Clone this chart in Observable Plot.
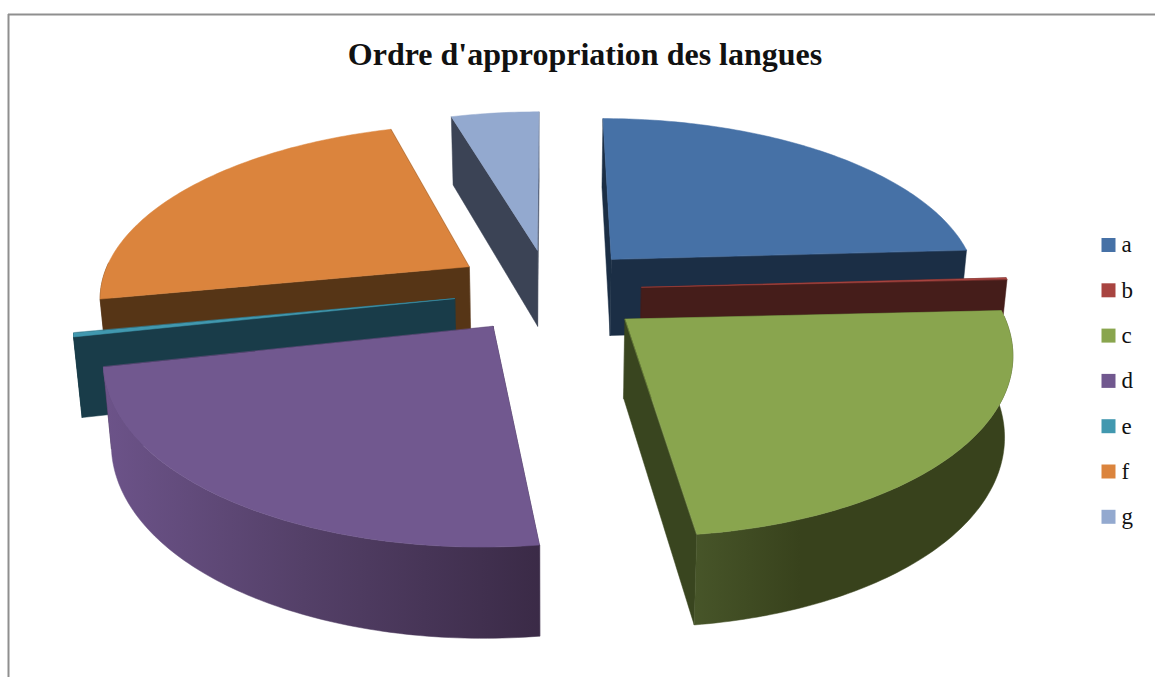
<!DOCTYPE html>
<html>
<head>
<meta charset="utf-8">
<script src="https://cdn.jsdelivr.net/npm/d3@7"></script>
<script src="https://cdn.jsdelivr.net/npm/@observablehq/plot@0.6"></script>
<style>
html,body{margin:0;padding:0;background:#fff;overflow:hidden}
svg{display:block}
</style>
</head>
<body>
<div id="chart"></div>
<script>
const chartTitle = "Ordre d'appropriation des langues";
const categories = ["a", "b", "c", "d", "e", "f", "g"];
const values = [24.1, 0.15, 23.75, 23.6, 0.35, 23.5, 4.55];
const topColors = ["#4671a6", "#a84440", "#89a54e", "#71588f", "#4198af", "#db843d", "#93a9cf"];
const sideColors = ["#1b2e45", "#451d1a", "#39451f", "#3a2b48", "#193c49", "#563516", "#3b4355"];
const rimFills = ["#1b2e45", "#451d1a", "url(#rim-c)", "url(#rim-d)", "#193c49", "#563516", "#3b4355"];
const explode = [0.25, 0.25, 0.26, 0.255, 0.26, 0.26, 0.24];
const drawOrder = ["g", "a", "f", "b", "e", "c", "d"];

// view of the tilted disc
const view = {x0: 549, y0: 289, A: 370, B: 172, k: 0.16, T: 78, kT: 0.12, pinch: 0.018};

function project(u, v, bottom) {
  const w = 1 - view.k * v;
  const x = view.x0 + view.A * u / w;
  const y = view.y0 + view.B * v / w;
  if (!bottom) return [x, y];
  return [view.x0 + (x - view.x0) * (1 - view.pinch), y + view.T / (1 - view.kT * v)];
}
const total = d3.sum(values);
const toRad = (t) => t / total * 2 * Math.PI;
const shapes = [];
let acc = 0;
categories.forEach((cat, i) => {
  const a0 = toRad(acc), a1 = toRad(acc + values[i]);
  acc += values[i];
  const mid = (a0 + a1) / 2;
  const ox = explode[i] * Math.sin(mid), oy = -explode[i] * Math.cos(mid);
  const rim = (a) => [ox + Math.sin(a), oy - Math.cos(a)];
  const apex = [ox, oy];
  const n = Math.max(2, Math.ceil((a1 - a0) * 60));
  const steps = d3.range(n + 1).map((s) => a0 + (a1 - a0) * s / n);
  const faces = [];
  const pushFace = (pts, fill) => faces.push({pts, fill, depth: d3.mean(pts, (p) => p[1])});
  for (const a of [a0, a1]) {
    const r = rim(a);
    pushFace([project(...apex), project(...r), project(...r, true), project(...apex, true)], sideColors[i]);
  }
  const front = steps.filter((a) => Math.cos(a) < 0.03);
  if (front.length > 1) {
    pushFace([...front.map((a) => project(...rim(a))), ...front.slice().reverse().map((a) => project(...rim(a), true))], rimFills[i]);
  }
  faces.sort((f, g) => f.depth - g.depth);
  faces.push({pts: [apex, ...steps.map(rim)].map((p) => project(...p)), fill: topColors[i]});
  const order = drawOrder.indexOf(cat) * 10;
  faces.forEach((f, j) => shapes.push({...f, order: order + j}));
});
shapes.sort((f, g) => f.order - g.order);

const legend = categories.map((c, i) => ({c, color: topColors[i], y: 244.5 + i * 45.3}));

function gradient(id, x1, x2, stops) {
  const g = d3.create("svg:linearGradient").attr("id", id).attr("gradientUnits", "userSpaceOnUse")
    .attr("x1", x1).attr("x2", x2).attr("y1", 0).attr("y2", 0);
  stops.forEach(([o, c]) => g.append("stop").attr("offset", o).attr("stop-color", c));
  return g.node();
}
const defs = () => {
  const d = d3.create("svg:defs");
  d.node().append(gradient("rim-d", 105, 545, [[0, "#6c5389"], [0.45, "#544068"], [1, "#3a2a46"]]));
  d.node().append(gradient("rim-c", 694, 800, [[0, "#475529"], [1, "#38421c"]]));
  return d.node();
};

const plot = Plot.plot({
  width: 1155,
  height: 677,
  margin: 0,
  style: {background: "#fff"},
  x: {domain: [0, 1155], range: [0, 1155], axis: null},
  y: {domain: [0, 677], range: [0, 677], axis: null},
  marks: [
    defs,
    Plot.ruleX([8], {y1: 14, y2: 677, stroke: "#8f8f8f", strokeWidth: 2}),
    Plot.ruleY([14], {x1: 8, x2: 1155, stroke: "#8f8f8f", strokeWidth: 2}),
    ...shapes.map((s) => Plot.line(s.pts, {
      x: (p) => p[0], y: (p) => p[1], fill: s.fill, stroke: s.fill, strokeWidth: 0.5, curve: "linear-closed"
    })),
    Plot.dot(legend, {x: () => 1108, y: "y", symbol: "square", r: 7.9, fill: "color"}),
    Plot.text(legend, {x: () => 1121, y: "y", text: "c", textAnchor: "start", fontSize: 23, fontFamily: "Liberation Serif", fill: "#111"}),
    Plot.text([chartTitle], {x: () => 584.5, y: () => 54, text: (d) => d, fontSize: 32, fontWeight: "bold", fontFamily: "Liberation Serif", fill: "#111"})
  ]
});
document.getElementById("chart").append(plot);
</script>
</body>
</html>
